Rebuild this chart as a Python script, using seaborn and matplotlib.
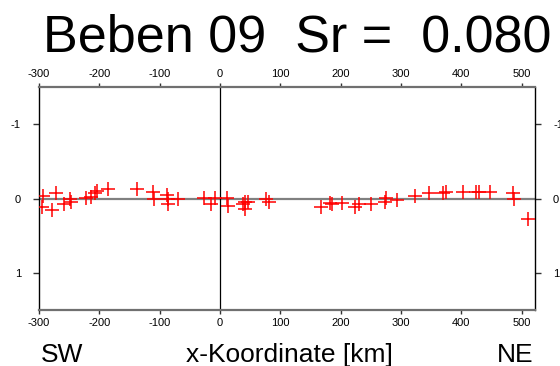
import numpy as np
import pandas as pd
import matplotlib
matplotlib.use("Agg")
import matplotlib.pyplot as plt
import seaborn as sns

# station positions along the profile [km] and residuals
x_km = [-293, -295, -272, -279, -259, -248, -247, -222, -214, -207, -204, -185,
        -137, -111, -109, -88, -86, -86, -69, -26, -15, -8, 12, 13, 38, 41, 41,
        47, 77, 82,
        168, 182, 185, 203, 224, 231, 251, 273, 275, 293, 323, 347, 370, 375,
        402, 425, 430, 447, 485, 488, 510]
resid = [-0.04, 0.12, -0.08, 0.16, 0.08, 0.0, 0.05, -0.01, -0.02, -0.08, -0.1,
         -0.13, -0.13, -0.09, 0.01, -0.05, 0.0, 0.08, 0.0, -0.01, 0.07, -0.01,
         -0.01, 0.1, 0.07, 0.04, 0.14, 0.04, 0.0, 0.05,
         0.12, 0.06, 0.08, 0.06, 0.12, 0.08, 0.07, 0.04, -0.01, 0.02, -0.04,
         -0.08, -0.08, -0.09, -0.09, -0.09, -0.09, -0.09, -0.08, 0.0, 0.27]

x_ticks = [-300, -200, -100, 0, 100, 200, 300, 400, 500]
y_ticks = [-1, 0, 1]
title = "Beben 09  Sr =  0.080"

sns.set_style("white")
plt.rcParams["font.family"] = ["Liberation Sans", "DejaVu Sans"]
plt.rcParams["axes.unicode_minus"] = False
plt.rcParams["text.color"] = "black"

df = pd.DataFrame({"x": x_km, "r": resid})

fig = plt.figure(figsize=(5.6, 3.66), dpi=100)
ax = fig.add_axes([0.0696, 0.153, 0.8857, 0.609])

ax.axhline(0, color="#808080", lw=1.6, zorder=1)
ax.axvline(0, color="black", lw=0.9, zorder=1)

sns.scatterplot(data=df, x="x", y="r", marker="+", color="red", s=100,
                linewidth=1.1, ax=ax, zorder=3)

ax.set_xlim(-300, 522)
ax.set_ylim(1.5, -1.5)
ax.set_xticks(x_ticks)
ax.set_yticks(y_ticks)
ax.set_xlabel("")
ax.set_ylabel("")

for side in ["left", "right"]:
    ax.spines[side].set_color("black")
    ax.spines[side].set_linewidth(1.0)
for side in ["top", "bottom"]:
    ax.spines[side].set_color("#707070")
    ax.spines[side].set_linewidth(1.6)

ax.tick_params(axis="x", which="both", top=True, bottom=True, labeltop=True,
               labelbottom=True, direction="out", length=3, width=1,
               labelsize=8, pad=3, color="#333333", labelcolor="black")
ax.tick_params(axis="y", which="both", left=True, right=True, labelleft=True,
               labelright=True, direction="out", length=4, width=1,
               labelsize=8, pad=9, color="#333333", labelcolor="black")

fig.text(0.530, 0.962, title, ha="center", va="top", fontsize=37.5)
fig.text(0.073, 0.011, "SW", ha="left", va="baseline", fontsize=19)
fig.text(0.516, 0.011, "x-Koordinate [km]", ha="center", va="baseline", fontsize=19)
fig.text(0.952, 0.011, "NE", ha="right", va="baseline", fontsize=19)

fig.savefig("out.png", dpi=100)
